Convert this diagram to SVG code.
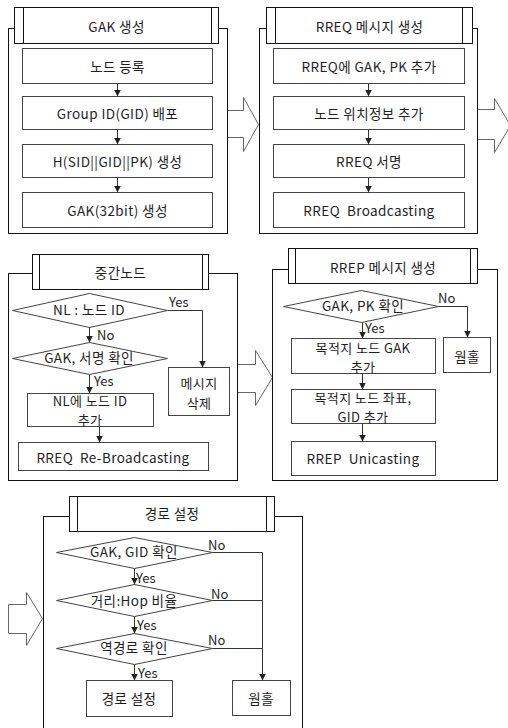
<svg xmlns="http://www.w3.org/2000/svg" width="508" height="728" viewBox="0 0 508 728">
<style>
.panel{fill:#fff;stroke:#111;stroke-width:1}
.title{fill:#fff;stroke:#111;stroke-width:1}
.box{fill:#fff;stroke:#444;stroke-width:1}
.dia{fill:#fff;stroke:#444;stroke-width:1}
.con{fill:none;stroke:#333;stroke-width:1}
.big{fill:#fff;stroke:#666;stroke-width:1}
text{font-family:"Noto Sans CJK KR","Noto Sans",sans-serif;font-size:13.5px;letter-spacing:0.4px;fill:#1e1e1e;text-anchor:middle;dominant-baseline:central}
.two{font-size:13px}
.lbl{text-anchor:start;letter-spacing:0;font-size:13px}
</style>
<defs>
<marker id="ah" viewBox="0 0 8 8" refX="8" refY="4" markerWidth="7" markerHeight="7" orient="auto" markerUnits="userSpaceOnUse"><path d="M0,0 L8,4 L0,8 z" fill="#222"/></marker>
</defs>

<!-- big hollow arrows -->
<g id="bigarrows">
<polygon class="big" points="227.5,110.5 243.5,110.5 243.5,97.5 258.5,124.5 243.5,151.5 243.5,137.5 227.5,137.5"/>
<polygon class="big" points="477.5,109.5 494.5,109.5 494.5,98.5 510.5,125.5 494.5,152.5 494.5,139.5 477.5,139.5"/>
<polygon class="big" points="237.5,364.5 255.5,364.5 255.5,350.5 272.5,377.5 255.5,405.5 255.5,392.5 237.5,392.5"/>
<polygon class="big" points="8.5,604.5 26.5,604.5 26.5,592.5 42.5,618.5 26.5,645.5 26.5,633.5 8.5,633.5"/>
</g>

<!-- Panel 1 -->
<g id="panel-gak">
<rect class="panel" x="8.5" y="28.5" width="219" height="205"/>
<rect class="title" x="14.5" y="7.5" width="204" height="36"/>
<path class="title" d="M23.5,7.5V43.5M211.5,7.5V43.5"/>
<text x="116.5" y="26">GAK 생성</text>
</g>
<g id="n-node-reg"><rect class="box" x="22.5" y="48.5" width="190" height="35"/><text x="117.5" y="66">노드 등록</text></g>
<g id="n-gid"><rect class="box" x="22.5" y="96.5" width="190" height="33"/><text x="117.5" y="113">Group ID(GID) 배포</text></g>
<g id="n-hash"><rect class="box" x="22.5" y="144.5" width="190" height="33"/><text x="117.5" y="161">H(SID||GID||PK) 생성</text></g>
<g id="n-gak32"><rect class="box" x="22.5" y="192.5" width="190" height="35"/><text x="117.5" y="210">GAK(32bit) 생성</text></g>

<!-- Panel 2 -->
<g id="panel-rreq">
<rect class="panel" x="259.5" y="28.5" width="218" height="205"/>
<rect class="title" x="266.5" y="7.5" width="206" height="36"/>
<path class="title" d="M275.5,7.5V43.5M462.5,7.5V43.5"/>
<text x="369.5" y="26">RREQ 메시지 생성</text>
</g>
<g id="n-rreq-add"><rect class="box" x="273.5" y="48.5" width="191" height="35"/><text x="369" y="66">RREQ에 GAK, PK 추가</text></g>
<g id="n-loc"><rect class="box" x="273.5" y="96.5" width="191" height="33"/><text x="369" y="113">노드 위치정보 추가</text></g>
<g id="n-sign"><rect class="box" x="273.5" y="144.5" width="191" height="33"/><text x="369" y="161">RREQ 서명</text></g>
<g id="n-bcast"><rect class="box" x="273.5" y="192.5" width="191" height="35"/><text x="369" y="210" xml:space="preserve">RREQ  Broadcasting</text></g>

<!-- Panel 3 -->
<g id="panel-mid">
<rect class="panel" x="8.5" y="273.5" width="229" height="207"/>
<rect class="title" x="32.5" y="254.5" width="176" height="35"/>
<path class="title" d="M39.5,254.5V289.5M202.5,254.5V289.5"/>
<text x="120.5" y="272">중간노드</text>
</g>
<g id="d-nl"><polygon class="dia" points="12.5,310.5 89.5,293.5 167.5,310.5 89.5,327.5"/><text x="89" y="309">NL : 노드 ID</text></g>
<g id="d-gaksig"><polygon class="dia" points="12.5,358.5 89.5,342.5 167.5,358.5 89.5,374.5"/><text x="89" y="357">GAK, 서명 확인</text></g>
<g id="n-nladd"><rect class="box" x="27.5" y="393.5" width="126" height="33"/><text class="two" x="90" y="400.5">NL에 노드 ID</text><text class="two" x="90" y="419.5">추가</text></g>
<g id="n-rebcast"><rect class="box" x="18.5" y="442.5" width="190" height="28"/><text x="113" y="457" xml:space="preserve">RREQ  Re-Broadcasting</text></g>
<g id="n-del"><rect class="box" x="168.5" y="367.5" width="61" height="48"/><text class="two" x="199" y="382">메시지</text><text class="two" x="199" y="402">삭제</text></g>

<!-- Panel 4 -->
<g id="panel-rrep">
<rect class="panel" x="272.5" y="269.5" width="225" height="211"/>
<rect class="title" x="288.5" y="248.5" width="189" height="35"/>
<path class="title" d="M295.5,248.5V283.5M470.5,248.5V283.5"/>
<text x="383" y="267">RREP 메시지 생성</text>
</g>
<g id="d-gakpk"><polygon class="dia" points="283.5,306.5 361.5,290.5 438.5,306.5 361.5,322.5"/><text x="363" y="305">GAK, PK 확인</text></g>
<g id="n-wh1"><rect class="box" x="443.5" y="337.5" width="47" height="35"/><text x="467" y="356">웜홀</text></g>
<g id="n-dstgak"><rect class="box" x="291.5" y="338.5" width="144" height="35"/><text class="two" x="363" y="347">목적지 노드 GAK</text><text class="two" x="363" y="366">추가</text></g>
<g id="n-dstpos"><rect class="box" x="291.5" y="389.5" width="144" height="34"/><text class="two" x="363" y="397">목적지 노드 좌표,</text><text class="two" x="363" y="416">GID 추가</text></g>
<g id="n-unicast"><rect class="box" x="291.5" y="441.5" width="144" height="34"/><text x="363" y="458" xml:space="preserve">RREP  Unicasting</text></g>

<!-- Panel 5 -->
<g id="panel-route">
<rect class="panel" x="43.5" y="516.5" width="259" height="230"/>
<rect class="title" x="69.5" y="496.5" width="205" height="35"/>
<path class="title" d="M77.5,496.5V531.5M266.5,496.5V531.5"/>
<text x="172" y="513">경로 설정</text>
</g>
<g id="d-gakgid"><polygon class="dia" points="56.5,552.5 134.5,537.5 212.5,552.5 134.5,568.5"/><text x="134" y="551">GAK, GID 확인</text></g>
<g id="d-hop"><polygon class="dia" points="56.5,600.5 134.5,584.5 212.5,600.5 134.5,616.5"/><text x="134" y="600">거리:Hop 비율</text></g>
<g id="d-rev"><polygon class="dia" points="56.5,648.5 134.5,633.5 212.5,648.5 134.5,664.5"/><text x="134" y="647">역경로 확인</text></g>
<g id="n-route"><rect class="box" x="86.5" y="680.5" width="86" height="36"/><text x="129" y="698">경로 설정</text></g>
<g id="n-wh2"><rect class="box" x="232.5" y="680.5" width="58" height="35"/><text x="261" y="698">웜홀</text></g>

<!-- connectors -->
<g id="connectors">
<path class="con" marker-end="url(#ah)" d="M117.5,83.5V96.5"/>
<path class="con" marker-end="url(#ah)" d="M117.5,129.5V144.5"/>
<path class="con" marker-end="url(#ah)" d="M117.5,177.5V192.5"/>
<path class="con" marker-end="url(#ah)" d="M368.5,83.5V96.5"/>
<path class="con" marker-end="url(#ah)" d="M368.5,129.5V144.5"/>
<path class="con" marker-end="url(#ah)" d="M368.5,177.5V192.5"/>

<path class="con" marker-end="url(#ah)" d="M89.5,327.5V342.5"/>
<path class="con" marker-end="url(#ah)" d="M89.5,374.5V393.5"/>
<path class="con" marker-end="url(#ah)" d="M99.5,426.5V442.5"/>
<path class="con" marker-end="url(#ah)" d="M167.5,310.5H202.5V367.5"/>

<path class="con" marker-end="url(#ah)" d="M362.5,322.5V338.5"/>
<path class="con" marker-end="url(#ah)" d="M362.5,373.5V389.5"/>
<path class="con" marker-end="url(#ah)" d="M362.5,423.5V441.5"/>
<path class="con" marker-end="url(#ah)" d="M438.5,306.5H467.5V337.5"/>

<path class="con" marker-end="url(#ah)" d="M134.5,568.5V584.5"/>
<path class="con" marker-end="url(#ah)" d="M134.5,616.5V633.5"/>
<path class="con" marker-end="url(#ah)" d="M134.5,664.5V680.5"/>
<path class="con" marker-end="url(#ah)" d="M212.5,552.5H262.5V680.5"/>
<path class="con" d="M212.5,600.5H262.5M212.5,648.5H262.5"/>

<text class="lbl" x="169" y="301">Yes</text>
<text class="lbl" x="97" y="334">No</text>
<text class="lbl" x="94" y="380.5">Yes</text>
<text class="lbl" x="438" y="297">No</text>
<text class="lbl" x="365" y="327">Yes</text>
<text class="lbl" x="208" y="544">No</text>
<text class="lbl" x="136" y="577">Yes</text>
<text class="lbl" x="211" y="593">No</text>
<text class="lbl" x="137" y="624">Yes</text>
<text class="lbl" x="208" y="639">No</text>
<text class="lbl" x="138" y="672">Yes</text>
</g>
</svg>
